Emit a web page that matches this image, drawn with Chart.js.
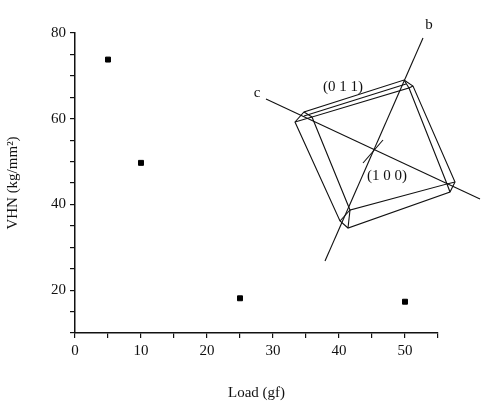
<!DOCTYPE html>
<html><head><meta charset="utf-8">
<script src="https://cdn.jsdelivr.net/npm/chart.js@4"></script>
<style>body{margin:0;background:#fff}</style></head>
<body><canvas id="c" width="500" height="406"></canvas>
<script>
const loads = [5, 10, 25, 50];
const vhn = [73.8, 49.7, 18.1, 17.3];
const xTickLabels = [0, 10, 20, 30, 40, 50];
const yTickLabels = [20, 40, 60, 80];
const FONT = '"Liberation Serif", "DejaVu Serif", serif';

const inset = {
  id: 'inset',
  afterDraw(chart) {
    const ctx = chart.ctx;
    ctx.save();
    ctx.strokeStyle = '#111'; ctx.lineWidth = 1.1;
    const poly = (pts, close=true) => { ctx.beginPath(); pts.forEach((p,i)=> i?ctx.lineTo(p[0],p[1]):ctx.moveTo(p[0],p[1])); if(close) ctx.closePath(); ctx.stroke(); };
    // outer plate
    const outer = [[404,80],[413,86],[455,182],[450,192],[348,228],[340,221],[295,122],[304,112]];
    poly(outer);
    // inner face
    const inner = [[409,88],[447,184],[350,210],[312,117]];
    poly(inner);
    // bevel connectors
    poly([[404,80],[409,88]],false); poly([[413,86],[409,88]],false);
    poly([[455,182],[447,184]],false); poly([[450,192],[447,184]],false);
    poly([[348,228],[350,210]],false); poly([[340,221],[350,210]],false);
    poly([[295,122],[312,117]],false); poly([[304,112],[312,117]],false);
    // second edge near top
    poly([[304,116],[406,84]],false);
    // axes b and c
    poly([[325,261],[423,38]],false);
    poly([[266,99],[480,199]],false);
    poly([[363,163],[383,140]],false);
    ctx.fillStyle = '#111';
    ctx.font = '15px ' + FONT;
    ctx.textAlign = 'center'; ctx.textBaseline = 'middle';
    ctx.fillText('b', 429, 25);
    ctx.fillText('c', 257, 93);
    ctx.fillText('(0 1 1)', 343, 87);
    ctx.fillText('(1 0 0)', 387, 176);
    ctx.restore();
  }
};

new Chart(document.getElementById('c'), {
  type: 'scatter',
  data: { datasets: [{ data: loads.map((x,i)=>({x, y: vhn[i]})), pointStyle: 'rect', pointRadius: 3.5, backgroundColor: '#000', borderColor: '#000' }] },
  options: {
    responsive: false, animation: false, devicePixelRatio: 1,
    layout: { padding: { left: 0, right: 62, top: 33, bottom: 0 } },
    plugins: { legend: { display: false }, tooltip: { enabled: false } },
    scales: {
      x: {
        type: 'linear', min: 0, max: 55,
        afterFit(s) { s.height = 73; },
        ticks: { stepSize: 5, color: '#111', font: { family: FONT, size: 15 }, padding: 4, maxRotation: 0,
          callback: v => xTickLabels.includes(v) ? String(v) : '' },
        grid: { drawOnChartArea: false, tickLength: 5, color: '#111', lineWidth: 1.2 },
        border: { color: '#111', width: 1.5 },
        title: { display: true, text: 'Load (gf)', color: '#111', font: { family: FONT, size: 15 }, padding: { top: 2 } }
      },
      y: {
        min: 10, max: 80,
        afterFit(s) { s.width = 75; },
        ticks: { stepSize: 5, color: '#111', font: { family: FONT, size: 15 }, padding: 4,
          callback: v => yTickLabels.includes(v) ? String(v) : '' },
        grid: { drawOnChartArea: false, tickLength: 5, color: '#111', lineWidth: 1.2 },
        border: { color: '#111', width: 1.5 },
        title: { display: true, text: 'VHN (kg/mm²)', color: '#111', font: { family: FONT, size: 15 }, padding: { bottom: 6 } }
      }
    }
  },
  plugins: [inset]
});
</script></body></html>
